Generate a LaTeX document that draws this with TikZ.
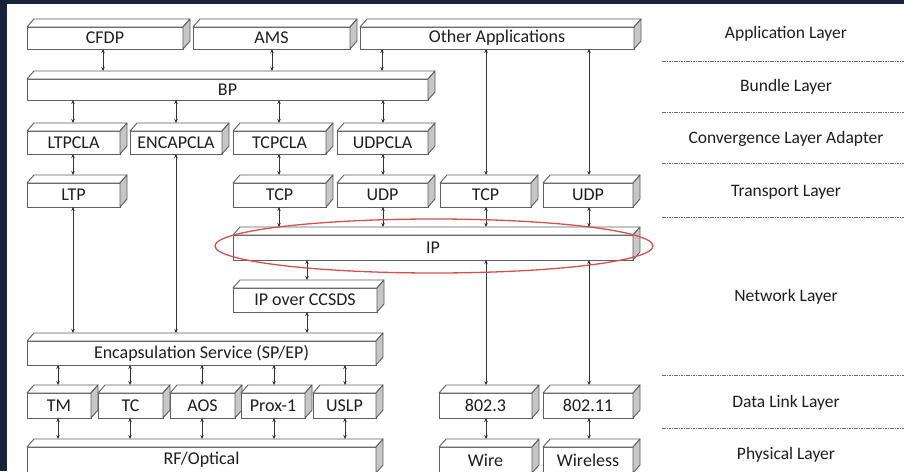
\documentclass[tikz,border=0pt]{standalone}
\usepackage{fontspec}
\setmainfont{Carlito}
\usetikzlibrary{arrows.meta,calc}
\definecolor{bgnavy}{RGB}{24,34,62}
\definecolor{sidegray}{RGB}{198,198,198}
\definecolor{boxline}{RGB}{95,95,95}
\definecolor{txt}{RGB}{30,30,30}
\definecolor{ellred}{RGB}{215,80,80}
\newcommand\layerbox[6]{%
 \pgfmathsetmacro\bw{#4-#2}\pgfmathsetmacro\bh{#5-#3}%
 \pgfmathsetmacro\bcx{(#2+#4)/2}\pgfmathsetmacro\bcy{(#3+#5)/2}%
 \node[boxfront,minimum width=\bw pt,minimum height=\bh pt] (#1) at (\bcx,\bcy) {#6};
 \filldraw[facestyle,fill=white] (#1.north west) -- ++(7,-8) -- ++(\bw,0) -- (#1.north east) -- cycle;
 \filldraw[facestyle,fill=sidegray] (#1.north east) -- ++(7,-8) -- ++(0,\bh) -- (#1.south east) -- cycle;
 \coordinate (#1-top) at ([yshift=8pt]#1.north);
}
\newcommand\conn[3]{%
 \coordinate (cx) at (#3,0);
 \draw[arr] (#1.south -| cx) -- (#2-top -| cx);
}
\begin{document}
\begin{tikzpicture}[x=1pt,y=-1pt,
  boxfront/.style={draw=boxline,fill=white,line width=0.9pt,inner sep=0pt,outer sep=0pt,text=txt,font=\fontsize{18}{21}\selectfont},
  facestyle/.style={draw=boxline,line width=0.9pt,line join=round},
  arr/.style={draw=black!80,line width=0.9pt,{Stealth[length=4pt,width=3.5pt]}-{Stealth[length=4pt,width=3.5pt]}},
  dashline/.style={draw=black!60,line width=0.7pt,dash pattern=on 1.6pt off 0.8pt},
  layerlabel/.style={text=txt,font=\fontsize{17.5}{20}\selectfont,inner sep=0pt}]
\fill[bgnavy] (0,0) rectangle (904,471);
\fill[white] (7,4) rectangle (904,471);
\useasboundingbox (0,0) rectangle (904,471);
\begin{scope}
\clip (7,4) rectangle (904,471);
% application
\layerbox{CFDP}{27}{27}{183}{49}{CFDP}
\layerbox{AMS}{193}{27}{350}{49}{AMS}
\layerbox{OA}{360}{27}{634}{49}{Other Applications}
% bundle
\layerbox{BP}{27}{79}{428}{100}{BP}
% CLA
\layerbox{LTPCLA}{27}{131}{120}{154}{LTPCLA}
\layerbox{ENCAPCLA}{130}{131}{222}{154}{ENCAPCLA}
\layerbox{TCPCLA}{233}{131}{326}{154}{TCPCLA}
\layerbox{UDPCLA}{337}{131}{428}{154}{UDPCLA}
% transport
\layerbox{LTP}{27}{183}{120}{207}{LTP}
\layerbox{TCPa}{233}{183}{326}{207}{TCP}
\layerbox{UDPa}{337}{183}{428}{207}{UDP}
\layerbox{TCPb}{440}{183}{531}{207}{TCP}
\layerbox{UDPb}{543}{183}{633}{207}{UDP}
% network
\layerbox{IP}{233}{235}{633}{260}{IP}
\layerbox{IPC}{233}{288}{377}{312}{IP over CCSDS}
\layerbox{ENC}{27}{341}{376}{365}{Encapsulation Service (SP/EP)}
% data link
\layerbox{TM}{27}{393}{91}{418}{TM}
\layerbox{TC}{98}{393}{163}{418}{TC}
\layerbox{AOS}{170}{393}{235}{418}{AOS}
\layerbox{PROX}{241}{393}{305}{418}{Prox-1}
\layerbox{USLP}{313}{393}{376}{418}{USLP}
\layerbox{ETH}{439}{393}{532}{418}{802.3}
\layerbox{WIFI}{543}{393}{633}{418}{802.11}
% physical
\layerbox{RF}{27}{447}{376}{473}{RF/Optical}
\layerbox{WIRE}{439}{447}{532}{473}{Wire}
\layerbox{WLESS}{543}{447}{633}{473}{Wireless}
% connectors
\conn{CFDP}{BP}{103}
\conn{AMS}{BP}{272}
\conn{OA}{BP}{382}
\conn{OA}{TCPb}{486}
\conn{OA}{UDPb}{589}
\conn{BP}{LTPCLA}{73}
\conn{BP}{ENCAPCLA}{176}
\conn{BP}{TCPCLA}{279}
\conn{BP}{UDPCLA}{383}
\conn{LTPCLA}{LTP}{73}
\conn{TCPCLA}{TCPa}{279}
\conn{UDPCLA}{UDPa}{383}
\conn{ENCAPCLA}{ENC}{176}
\conn{LTP}{ENC}{73}
\conn{TCPa}{IP}{279}
\conn{UDPa}{IP}{383}
\conn{TCPb}{IP}{486}
\conn{UDPb}{IP}{589}
\conn{IP}{IPC}{307}
\conn{IPC}{ENC}{307}
\conn{IP}{ETH}{486}
\conn{IP}{WIFI}{589}
\conn{ENC}{TM}{58}
\conn{ENC}{TC}{130}
\conn{ENC}{AOS}{202}
\conn{ENC}{PROX}{274}
\conn{ENC}{USLP}{345}
\conn{TM}{RF}{58}
\conn{TC}{RF}{130}
\conn{AOS}{RF}{202}
\conn{PROX}{RF}{274}
\conn{USLP}{RF}{345}
\conn{ETH}{WIRE}{486}
\conn{WIFI}{WLESS}{589}
% highlight
\draw[ellred,line width=1.3pt] (434,246) ellipse [x radius=219pt,y radius=27pt];
% layer separators
\foreach \yy in {61,112,163,217,375,428}{\draw[dashline] (662,\yy) -- (904,\yy);}
\end{scope}
\node[layerlabel] (LApp) at (786,34) {Application Layer};
\node[layerlabel] (LBun) at (786,87) {Bundle Layer};
\node[layerlabel] (LCla) at (786,139) {Convergence Layer Adapter};
\node[layerlabel] (LTra) at (786,192) {Transport Layer};
\node[layerlabel] (LNet) at (786,297) {Network Layer};
\node[layerlabel] (LDat) at (786,403) {Data Link Layer};
\node[layerlabel] (LPhy) at (786,455) {Physical Layer};
\end{tikzpicture}
\end{document}
